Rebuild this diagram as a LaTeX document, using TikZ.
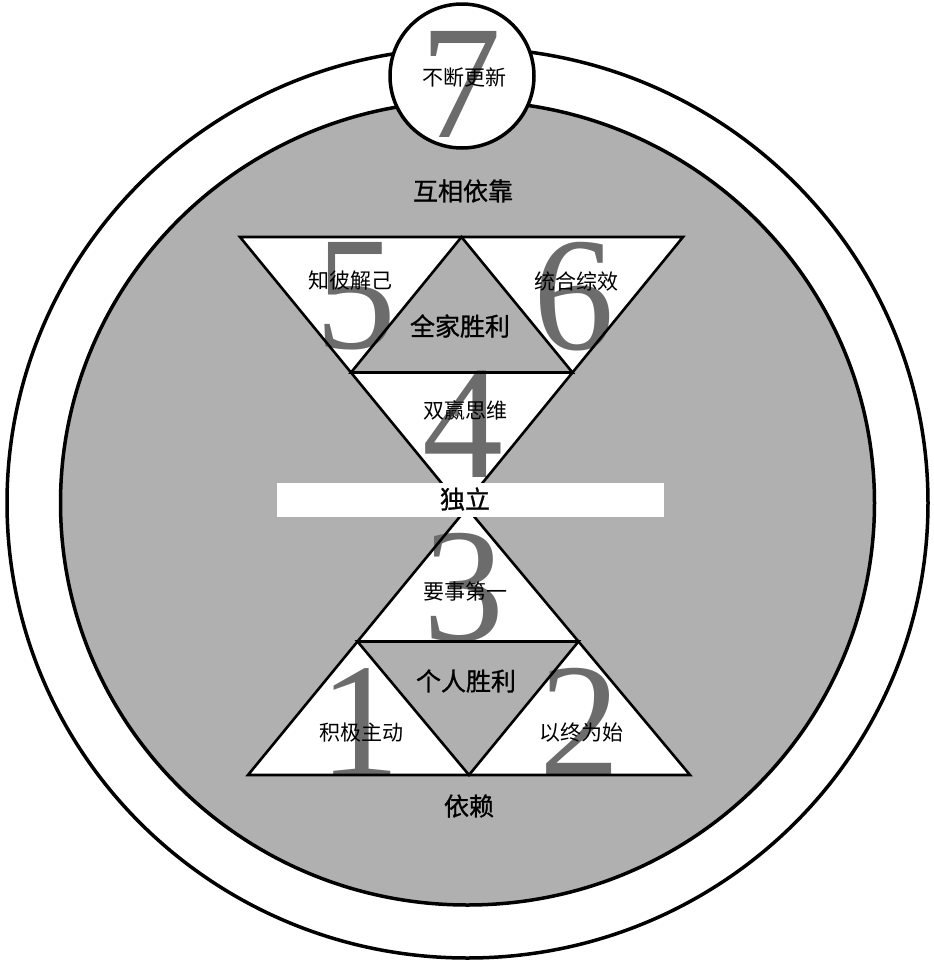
\documentclass[tikz,border=0pt]{standalone}
\usepackage{fontspec}
\newfontfamily\cjk{Noto Sans CJK SC}
\newfontfamily\cjkb{Noto Sans CJK SC}[FakeBold=1]
\newfontfamily\digitfont{Liberation Serif}
\definecolor{discgray}{RGB}{176,176,176}
\definecolor{digitgray}{RGB}{108,108,108}
\begin{document}
\begin{tikzpicture}[x=1pt,y=-1pt,
  ringline/.style={line width=3.5pt,draw=black},
  triline/.style={line width=2.6pt,draw=black,line join=miter},
  small/.style={font=\cjk\fontsize{21}{21}\selectfont,inner sep=0pt},
  big/.style={font=\cjkb\fontsize{25}{25}\selectfont,inner sep=0pt},
  digit/.style={font=\digitfont\fontsize{162}{162}\selectfont,text=digitgray,anchor=base,inner sep=0pt}]
\useasboundingbox (0,0) rectangle (934,962);
\fill[white] (0,0) rectangle (934,962);
% rings
\draw[ringline,fill=white] (467.5,503) ellipse [x radius=460.5,y radius=455];
\draw[ringline,fill=discgray] (467.5,503) ellipse [x radius=407,y radius=402];
\draw[ringline,fill=white] (462,76) circle [radius=72];
% coordinates of the upper triangle
\coordinate (A) at (240,237);
\coordinate (B) at (683,237);
\coordinate (C) at (462,508);
\coordinate (mAB) at (461.5,237);
\coordinate (mAC) at (351,372.5);
\coordinate (mBC) at (572.5,372.5);
% lower triangle
\coordinate (P) at (467,508);
\coordinate (E) at (248,775);
\coordinate (F) at (690,775);
\coordinate (mEF) at (469,775);
\coordinate (mPE) at (357.5,641.5);
\coordinate (mPF) at (578.5,641.5);
% white corner triangles
\fill[white] (A) -- (mAB) -- (mAC) -- cycle;
\fill[white] (mAB) -- (B) -- (mBC) -- cycle;
\fill[white] (mAC) -- (mBC) -- (C) -- cycle;
\fill[white] (P) -- (mPE) -- (mPF) -- cycle;
\fill[white] (mPE) -- (E) -- (mEF) -- cycle;
\fill[white] (mPF) -- (mEF) -- (F) -- cycle;
% big digits
\node[digit] (d5) at (356,348) {5};
\node[digit] (d6) at (574,349) {6};
\node[digit] (d4) at (463,477) {4};
\node[digit] (d3) at (464,640) {3};
\node[digit] (d1) at (360,775) {1};
\node[digit] (d2) at (580,775) {2};
\node[digit] (d7) at (461,137) {7};
% triangle outlines
\draw[triline] (A) -- (B) -- (C) -- cycle;
\draw[triline] (mAB) -- (mAC) -- (mBC) -- cycle;
\draw[triline] (P) -- (E) -- (F) -- cycle;
\draw[triline] (mPE) -- (mEF) -- (mPF) -- cycle;
% bar
\fill[white] (277,483) rectangle (664,517);
% labels
\node[small] (t7) at (464,78) {不断更新};
\node[big] (hx) at (463,191) {互相依靠};
\node[small] (t5) at (350,281) {知彼解己};
\node[small] (t6) at (576,281) {统合综效};
\node[big] (qj) at (460,326) {全家胜利};
\node[small] (t4) at (465,410) {双赢思维};
\node[big] (dl) at (465,499) {独立};
\node[small] (t3) at (465,591) {要事第一};
\node[big] (gr) at (466,681) {个人胜利};
\node[small] (t1) at (361,733) {积极主动};
\node[small] (t2) at (581,733) {以终为始};
\node[big] (yl) at (469,806) {依赖};
\end{tikzpicture}
\end{document}
